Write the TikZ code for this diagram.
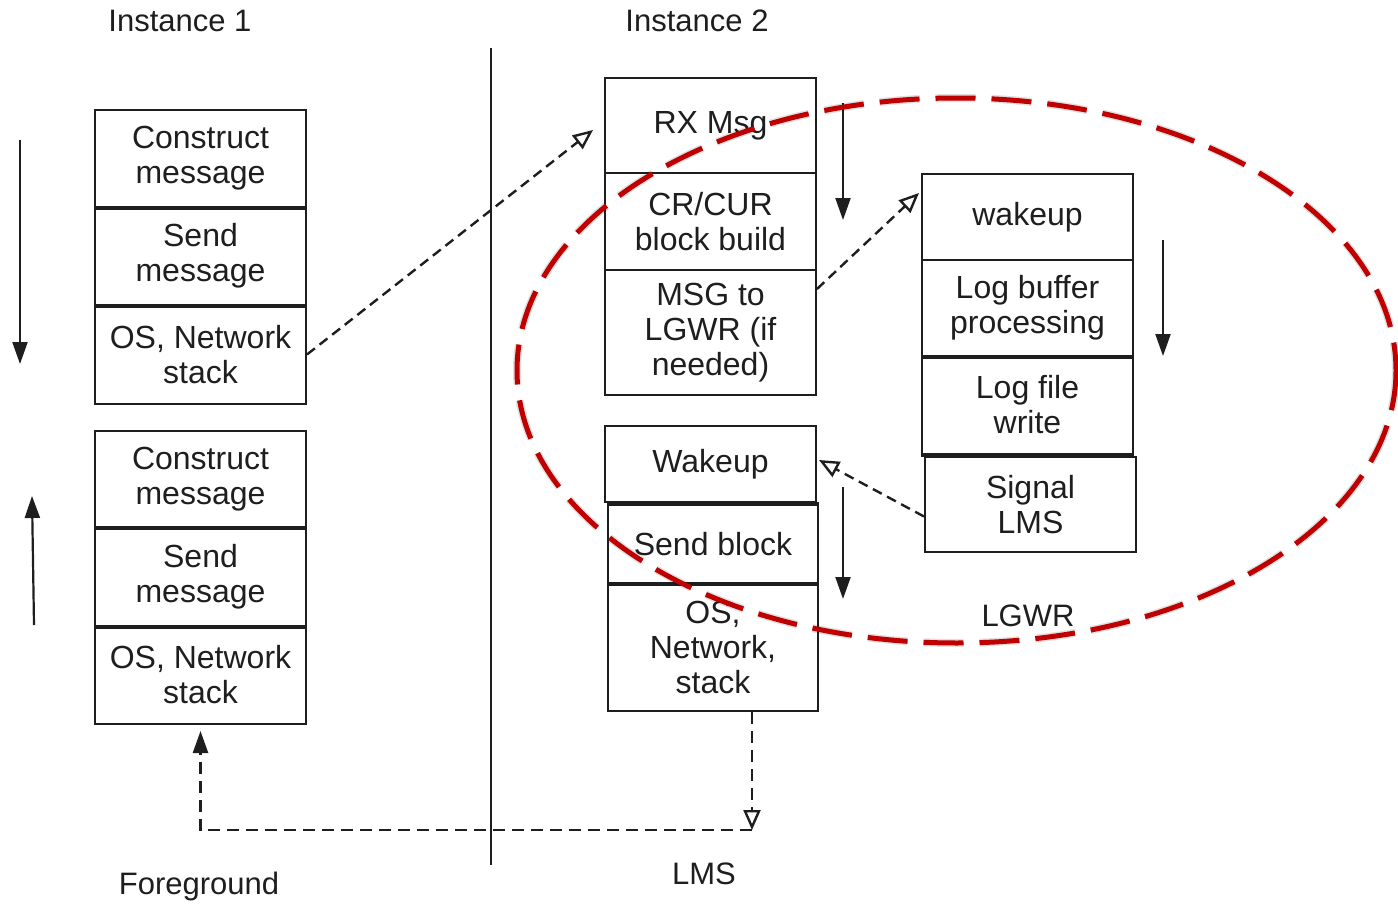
\documentclass[tikz,border=0pt]{standalone}
\usepackage{fontspec}
\setmainfont{Liberation Sans}
\usetikzlibrary{arrows.meta}
\definecolor{hl}{RGB}{192,0,0}
\definecolor{ink}{RGB}{30,30,30}
\begin{document}
\begin{tikzpicture}[x=1pt,y=-1pt,
  blk/.style={draw=ink, line width=2pt, minimum width=211pt, inner sep=0pt,
    align=center, text=ink, font=\fontsize{32}{35}\selectfont},
  sep/.style={line width=4.5pt, ink},
  flow/.style={line width=2.2pt, ink, -{Triangle[length=22pt,width=15pt]}},
  msg/.style={line width=2.4pt, ink, dash pattern=on 10pt off 6pt,
    -{Triangle[open,length=20pt,width=17pt,line width=2.4pt]}},
  lbl/.style={text=ink, font=\fontsize{31}{35}\selectfont}
]
\useasboundingbox (0,0) rectangle (1398,907);

% Instance 1: send stack and receive stack
\node[blk, minimum height=97pt] (c1) at (200.5,158.5) {Construct\\message};
\node[blk, minimum height=98pt] (s1) at (200.5,256) {Send\\message};
\node[blk, minimum height=99pt] (o1) at (200.5,354.5) {OS, Network\\stack};
\node[blk, minimum height=96pt] (c2) at (200.5,479) {Construct\\message};
\node[blk, minimum height=99pt] (s2) at (200.5,576.5) {Send\\message};
\node[blk, minimum height=98pt] (o2) at (200.5,675) {OS, Network\\stack};

% Instance 2: LMS stacks
\node[blk, minimum height=95pt] (rx) at (710.5,125.5) {RX Msg};
\node[blk, minimum height=97pt] (cr) at (710.5,221.5) {CR/CUR\\block build};
\node[blk, minimum height=125pt] (mg) at (710.5,332.5) {MSG to\\LGWR (if\\needed)};
\node[blk, minimum height=76pt] (wk) at (710.5,464) {Wakeup};
\node[blk, minimum width=210pt, minimum height=78pt] (sb) at (713,544) {Send block};
\node[blk, minimum width=210pt, minimum height=128pt] (os) at (713,647) {OS,\\Network,\\stack};

% Instance 2: LGWR stack
\node[blk, minimum height=86pt] (lw) at (1027.5,217) {wakeup};
\node[blk, minimum height=96pt] (lb) at (1027.5,308) {Log buffer\\processing};
\node[blk, minimum height=98pt] (lf) at (1027.5,405) {Log file\\write};
\node[blk, minimum height=95pt] (sl) at (1030.5,504.5) {Signal\\LMS};

% heavier joints between stacked boxes
\draw[sep] (c1.south west) -- (c1.south east);
\draw[sep] (s1.south west) -- (s1.south east);
\draw[sep] (c2.south west) -- (c2.south east);
\draw[sep] (s2.south west) -- (s2.south east);
\draw[sep] (sb.north west) -- (sb.north east);
\draw[sep] (sb.south west) -- (sb.south east);
\draw[sep] (lb.south west) -- (lb.south east);
\draw[sep] (lf.south west) -- (lf.south east);

% instance boundary
\draw[line width=2pt, ink] (491,48) -- (491,865);

% direction of processing
\draw[flow] (20,140) -- (20,364);
\draw[flow] (34,625) -- (32,496);
\draw[flow] (843,103) -- (843,220);
\draw[flow] (1163,240) -- (1163,356);
\draw[flow] (843,487) -- (843,599);

% messages between stacks
\draw[msg] (o1.east) -- ([xshift=-11pt,yshift=-4.5pt]rx.west);
\draw[msg] ([yshift=-20pt]mg.north east) -- ([xshift=-2pt,yshift=-20pt]lw.north west);
\draw[msg] ([yshift=-12pt]sl.west) -- ([xshift=2pt,yshift=4pt]wk.east);
\coordinate (turn) at (752,830);
\draw[msg, dash pattern=on 12pt off 7pt] ([xshift=39pt]os.south) -- (turn);
\draw[line width=2.4pt, ink, dash pattern=on 12pt off 7pt,
  -{Triangle[length=22pt,width=15pt]}, shorten >=6pt] (turn) -| (o2.south);

% labels
\node[lbl] (i1) at (180,21) {Instance 1};
\node[lbl] (i2) at (697,21) {Instance 2};
\node[lbl] (fg) at (199,886) {Foreground};
\node[lbl] (lms) at (704,874) {LMS};
\node[lbl] (lgwr) at (1028,616) {LGWR};

% LGWR region
\draw[line width=8pt, black, opacity=0.12, dash pattern=on 40pt off 16pt]
  (956.5,370.5) ellipse [x radius=439.5, y radius=272.5];
\draw[line width=5pt, hl, dash pattern=on 40pt off 16pt]
  (956.5,370.5) ellipse [x radius=439.5, y radius=272.5];
\end{tikzpicture}
\end{document}
